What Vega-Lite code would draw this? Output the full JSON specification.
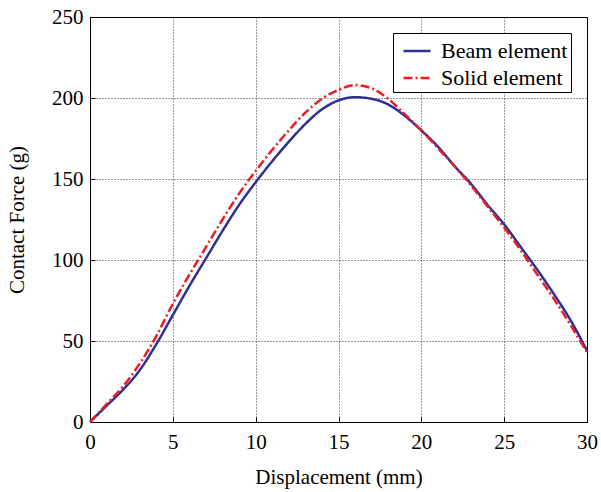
{
  "$schema": "https://vega.github.io/schema/vega-lite/v6.json",
  "width": 497,
  "height": 405,
  "autosize": {"type": "none"},
  "padding": {"left": 90, "top": 17, "right": 14, "bottom": 70},
  "background": "white",
  "config": {
    "font": "Liberation Serif",
    "view": {"stroke": "black", "strokeWidth": 1},
    "axis": {
      "labelFont": "Liberation Serif",
      "labelFontSize": 21,
      "labelColor": "black",
      "titleFont": "Liberation Serif",
      "titleFontSize": 21,
      "titleFontWeight": "normal",
      "titleColor": "black",
      "domainColor": "black",
      "domainWidth": 1,
      "tickColor": "black",
      "tickSize": -5,
      "tickWidth": 1,
      "gridColor": "black",
      "gridDash": [1, 2],
      "gridWidth": 0.8,
      "gridOpacity": 1,
      "labelFlush": false,
      "labelOverlap": false
    },
    "legend": {
      "strokeColor": "black",
      "fillColor": "white",
      "padding": 3,
      "cornerRadius": 0,
      "symbolType": "stroke",
      "symbolSize": 729,
      "symbolStrokeWidth": 2.5,
      "symbolOffset": 6,
      "labelFont": "Liberation Serif",
      "labelFontSize": 22,
      "labelColor": "black",
      "labelOffset": 9,
      "rowPadding": 1,
      "labelLimit": 300
    }
  },
  "data": {
    "values": [
      {"x": 0, "y": 0, "series": "Beam element"},
      {"x": 1, "y": 10, "series": "Beam element"},
      {"x": 2, "y": 20, "series": "Beam element"},
      {"x": 2.7, "y": 28, "series": "Beam element"},
      {"x": 3, "y": 32, "series": "Beam element"},
      {"x": 4, "y": 48, "series": "Beam element"},
      {"x": 5, "y": 66, "series": "Beam element"},
      {"x": 6, "y": 84, "series": "Beam element"},
      {"x": 7, "y": 101, "series": "Beam element"},
      {"x": 8, "y": 118, "series": "Beam element"},
      {"x": 9, "y": 134, "series": "Beam element"},
      {"x": 10, "y": 148, "series": "Beam element"},
      {"x": 11, "y": 161, "series": "Beam element"},
      {"x": 12, "y": 173, "series": "Beam element"},
      {"x": 13, "y": 184, "series": "Beam element"},
      {"x": 14, "y": 193, "series": "Beam element"},
      {"x": 15, "y": 198.5, "series": "Beam element"},
      {"x": 16, "y": 200.5, "series": "Beam element"},
      {"x": 17, "y": 199.5, "series": "Beam element"},
      {"x": 18, "y": 196, "series": "Beam element"},
      {"x": 19, "y": 189, "series": "Beam element"},
      {"x": 20, "y": 180, "series": "Beam element"},
      {"x": 21, "y": 170, "series": "Beam element"},
      {"x": 22, "y": 158, "series": "Beam element"},
      {"x": 23, "y": 147, "series": "Beam element"},
      {"x": 24, "y": 134, "series": "Beam element"},
      {"x": 25, "y": 122, "series": "Beam element"},
      {"x": 26, "y": 108, "series": "Beam element"},
      {"x": 27, "y": 94, "series": "Beam element"},
      {"x": 28, "y": 79, "series": "Beam element"},
      {"x": 29, "y": 63, "series": "Beam element"},
      {"x": 30, "y": 44, "series": "Beam element"},
      {"x": 0, "y": 0, "series": "Solid element"},
      {"x": 1, "y": 11, "series": "Solid element"},
      {"x": 2, "y": 22, "series": "Solid element"},
      {"x": 3, "y": 36, "series": "Solid element"},
      {"x": 4, "y": 53, "series": "Solid element"},
      {"x": 5, "y": 73, "series": "Solid element"},
      {"x": 6, "y": 91, "series": "Solid element"},
      {"x": 7, "y": 108, "series": "Solid element"},
      {"x": 8, "y": 125, "series": "Solid element"},
      {"x": 9, "y": 141, "series": "Solid element"},
      {"x": 10, "y": 155, "series": "Solid element"},
      {"x": 11, "y": 168, "series": "Solid element"},
      {"x": 12, "y": 180, "series": "Solid element"},
      {"x": 13, "y": 191, "series": "Solid element"},
      {"x": 14, "y": 199.5, "series": "Solid element"},
      {"x": 15, "y": 205, "series": "Solid element"},
      {"x": 16, "y": 208, "series": "Solid element"},
      {"x": 17, "y": 206, "series": "Solid element"},
      {"x": 18, "y": 199.5, "series": "Solid element"},
      {"x": 19, "y": 190, "series": "Solid element"},
      {"x": 20, "y": 180, "series": "Solid element"},
      {"x": 21, "y": 169, "series": "Solid element"},
      {"x": 22, "y": 158, "series": "Solid element"},
      {"x": 23, "y": 146, "series": "Solid element"},
      {"x": 24, "y": 133, "series": "Solid element"},
      {"x": 25, "y": 120, "series": "Solid element"},
      {"x": 26, "y": 106, "series": "Solid element"},
      {"x": 27, "y": 91, "series": "Solid element"},
      {"x": 28, "y": 76, "series": "Solid element"},
      {"x": 29, "y": 60, "series": "Solid element"},
      {"x": 30, "y": 43, "series": "Solid element"}
    ]
  },
  "mark": {"type": "line", "strokeWidth": 2.5, "interpolate": "monotone"},
  "encoding": {
    "x": {
      "field": "x",
      "type": "quantitative",
      "scale": {"domain": [0, 30], "nice": false},
      "axis": {"title": "Displacement (mm)", "values": [0, 5, 10, 15, 20, 25, 30], "labelPadding": 14, "titlePadding": 14}
    },
    "y": {
      "field": "y",
      "type": "quantitative",
      "scale": {"domain": [0, 250], "nice": false},
      "axis": {"title": "Contact Force (g)", "values": [0, 50, 100, 150, 200, 250], "labelPadding": 12, "titlePadding": 24}
    },
    "color": {
      "field": "series",
      "type": "nominal",
      "scale": {"domain": ["Beam element", "Solid element"], "range": ["#2e3192", "#ed1c24"]},
      "legend": {"title": null, "orient": "none", "legendX": 303, "legendY": 16}
    },
    "strokeDash": {
      "field": "series",
      "type": "nominal",
      "scale": {"domain": ["Beam element", "Solid element"], "range": [[1, 0], [9, 3, 2, 3]]},
      "legend": {"title": null, "orient": "none", "legendX": 303, "legendY": 16}
    }
  }
}
